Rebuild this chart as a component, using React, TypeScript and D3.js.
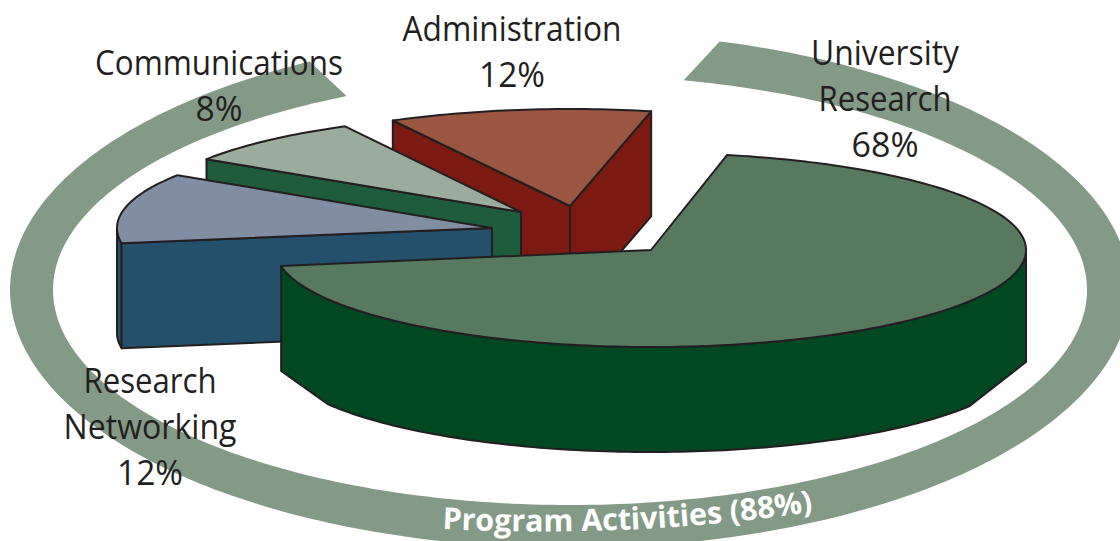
import React from "react";
import * as d3 from "d3";

const categories = ["University Research", "Research Networking", "Communications", "Administration"];
const shares = [68, 12, 8, 12];
const programShares = [88, 12];
const topColors = ["#57795f", "#818da3", "#9cac9c", "#9a5642"];
const sideColors = ["#004822", "#24506c", "#1f5c3c", "#7a1a12"];
const explodeX = [0, -159, -130, -81];
const explodeY = [0, -22, -38, -44];
// the artwork's perspective nudges each slice's edges by a few degrees
const startNudge = [-0.8, 3.7, 2.5, 2.5];
const endNudge = [3.2, 2.5, 2.7, 0];

const W = 1120, H = 541;
const CX = 651, CY = 250, RX = 375, RY = 97, DEPTH = 105;
const INK = "#231f20";
const RING = "#839b86";

const rad = (deg: number) => (deg * Math.PI) / 180;
const sx = d3.scaleLinear().domain([-1, 1]).range([CX - RX, CX + RX]);
const sy = d3.scaleLinear().domain([-1, 1]).range([CY - RY, CY + RY]);
const line = d3.line<[number, number]>().x((d) => d[0]).y((d) => d[1]);

const pieGen = d3.pie<number>().sort(null).startAngle(rad(12.5)).endAngle(rad(372.5));
const slices = pieGen(shares).map((s, i) => ({
  ...s,
  startAngle: s.startAngle + rad(startNudge[i]),
  endAngle: s.endAngle + rad(endNudge[i]),
}));

type P = [number, number];
const rim = (a: number, i: number, dz = 0): P => [
  sx(Math.sin(a)) + explodeX[i],
  sy(-Math.cos(a)) + explodeY[i] + dz,
];
const apex = (i: number, dz = 0): P => [CX + explodeX[i], CY + explodeY[i] + dz];
const arcPts = (a0: number, a1: number, i: number, dz = 0): P[] => {
  const n = Math.max(2, Math.ceil(Math.abs(a1 - a0) / 0.02));
  return d3.range(n + 1).map((k) => rim(a0 + ((a1 - a0) * k) / n, i, dz));
};
const closed = (pts: P[]) => (line(pts) as string) + "Z";

// ring
const ringCx = 570, ringCy = 290;
const ringPie = d3.pie<number>().sort(null).startAngle(rad(15.5)).endAngle(rad(375.5))(programShares)[0];
const ell = (cx: number, cy: number, a: number, rx: number, ry: number): P => [cx + rx * Math.sin(a), cy - ry * Math.cos(a)];
const ringPts = (a0: number, a1: number, rx: number, ry: number): P[] =>
  d3.range(301).map((k) => ell(ringCx, ringCy, a0 + ((a1 - a0) * k) / 300, rx, ry));
const ringPath = closed([
  ...ringPts(ringPie.startAngle, ringPie.endAngle, 560, 258),
  ...ringPts(ringPie.endAngle + rad(2.1), ringPie.startAngle - rad(2.8), 517, 215),
]);
const textPts: P[] = d3.range(101).map((k) => ell(540, 390.5, rad(190.6 + ((143 - 190.6) * k) / 100), 532, 141));
const ringTextPath = line(textPts) as string;

type Lab = { lines: string[]; lens: number[]; x: number; y: number };
const labels: Lab[] = [
  { lines: ["University", "Research", "68%"], lens: [148, 133, 67], x: 885, y: 65 },
  { lines: ["Research", "Networking", "12%"], lens: [133, 173, 66], x: 150, y: 393 },
  { lines: ["Communications", "8%"], lens: [248, 47], x: 219, y: 75 },
  { lines: ["Administration", "12%"], lens: [219, 66], x: 512, y: 41 },
];

export default function App() {
  const [g, rn, cm, ad] = slices;
  return (
    <svg width={W} height={H} viewBox={`0 0 ${W} ${H}`} style={{ position: "absolute", left: 0, top: 0, background: "#fff" }}>
      <path d={ringPath} fill={RING} />
      <path id="ringText" d={ringTextPath} fill="none" />

      {labels.map((l) =>
        l.lines.map((t, k) => (
          <text key={t + k} x={l.x} y={l.y + k * 45.8} textAnchor="middle" fontFamily="'Open Sans', sans-serif"
            fontSize={35} fill={INK} textLength={l.lens[k]} lengthAdjust="spacingAndGlyphs">{t}</text>
        ))
      )}

      <g stroke={INK} strokeWidth={2} strokeLinejoin="round">
        {/* Administration */}
        <path d={closed([rim(ad.startAngle, 3), apex(3), apex(3, DEPTH), rim(ad.startAngle, 3, DEPTH)])} fill={sideColors[3]} />
        <path d={closed([rim(ad.endAngle, 3), apex(3), apex(3, DEPTH), rim(ad.endAngle, 3, DEPTH)])} fill={sideColors[3]} />
        <path d={closed([apex(3), ...arcPts(ad.startAngle, ad.endAngle, 3)])} fill={topColors[3]} />
        {/* Communications */}
        <path d={closed([rim(cm.startAngle, 2), apex(2), apex(2, DEPTH), rim(cm.startAngle, 2, DEPTH)])} fill={sideColors[2]} />
        <path d={closed([apex(2), ...arcPts(cm.startAngle, cm.endAngle, 2)])} fill={topColors[2]} />
        {/* Research Networking */}
        <path d={closed([...arcPts(rad(270), rn.startAngle, 1), ...arcPts(rn.startAngle, rad(270), 1, DEPTH)])} fill={sideColors[1]} />
        <path d={closed([rim(rn.startAngle, 1), apex(1), apex(1, DEPTH), rim(rn.startAngle, 1, DEPTH)])} fill={sideColors[1]} />
        <path d={closed([apex(1), ...arcPts(rn.startAngle, rn.endAngle, 1)])} fill={topColors[1]} />
        {/* University Research: the wall's bottom is chamfered at both ends */}
        <path d={closed([
          ...arcPts(rad(90), g.endAngle, 0),
          rim(g.endAngle, 0, DEPTH),
          ...arcPts(rad(239.4), rad(122), 0, DEPTH),
          rim(rad(90), 0, DEPTH + 7),
        ])} fill={sideColors[0]} />
        <path d={closed([apex(0), ...arcPts(g.startAngle, g.endAngle, 0)])} fill={topColors[0]} />
      </g>

      <text fontFamily="'Open Sans', sans-serif" fontWeight={700} fontSize={30.5} fill="#fff">
        <textPath href="#ringText" startOffset="0">Program Activities (88%)</textPath>
      </text>
    </svg>
  );
}
